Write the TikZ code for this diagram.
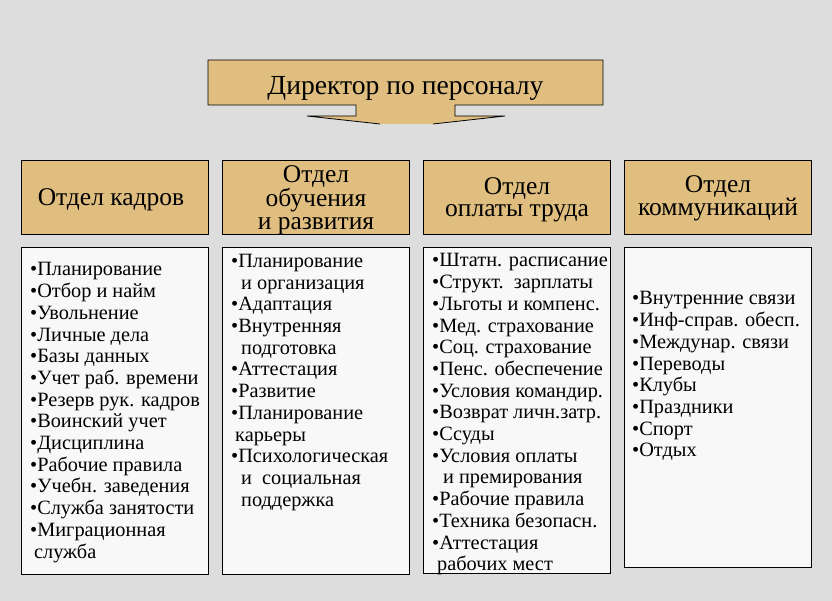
\documentclass[tikz,border=0pt]{standalone}
\usepackage{fontspec}
\setmainfont{Liberation Serif}
\definecolor{bgc}{RGB}{221,221,221}
\definecolor{tanc}{RGB}{224,190,128}
\definecolor{paperc}{RGB}{248,248,248}
\begin{document}
\begin{tikzpicture}[x=1pt,y=-1pt,
  hdr/.style={draw=black, fill=tanc, line width=0.8pt, minimum width=187pt, minimum height=74pt, inner sep=0pt},
  hdrtext/.style={inner sep=0pt, align=center, font=\fontsize{25.5}{22.5}\selectfont},
  listbox/.style={draw=black, fill=paperc, line width=0.8pt, minimum width=187pt, inner sep=0pt},
  listtext/.style={anchor=north west, inner sep=0pt, align=left, font=\fontsize{20.3}{21.7}\selectfont}]
\fill[bgc] (0,0) rectangle (832,601);
\useasboundingbox (0,0) rectangle (832,601);
% director callout
\fill[tanc] (208,60) -- (603,60) -- (603,105) -- (455,105) -- (455,116) -- (505,116) -- (433,124) -- (380,124) -- (307,116) -- (356,116) -- (356,105) -- (208,105) -- cycle;
\draw[line width=0.8pt] (433,124) -- (505,116) -- (455,116) -- (455,105) -- (603,105) -- (603,60) -- (208,60) -- (208,105) -- (356,105) -- (356,116) -- (307,116) -- (380,124);
\node[inner sep=0pt, font=\fontsize{27.6}{27.6}\selectfont] (dir) at (405.5,88) {Директор по персоналу};
% headers
\node[hdr] (h1) at (115,197) {};
\node[hdr] (h2) at (316,197) {};
\node[hdr] (h3) at (517,197) {};
\node[hdr] (h4) at (718,197) {};
\node[hdrtext] (h1t) at (111,200) {Отдел кадров};
\node[hdrtext] (h2t) at (316,200) {Отдел\\обучения\\и развития};
\node[hdrtext] (h3t) at (517,200) {Отдел\\оплаты труда};
\node[hdrtext] (h4t) at (718,198.5) {Отдел\\коммуникаций};
% list boxes
\node[listbox, minimum height=327pt] (b1) at (115,410.5) {};
\node[listbox, minimum height=327pt] (b2) at (316,410.5) {};
\node[listbox, minimum height=326pt] (b3) at (517,410) {};
\node[listbox, minimum height=320pt] (b4) at (718,407) {};
% list texts
\node[listtext] (t1) at (30,262.5) {•Планирование\\•Отбор и найм\\•Увольнение\\•Личные дела\\•Базы данных\\•Учет раб. времени\\•Резерв рук. кадров\\•Воинский учет\\•Дисциплина\\•Рабочие правила\\•Учебн. заведения\\•Служба занятости\\•Миграционная\\\hspace*{4pt}служба};
\node[listtext] (t2) at (231,254) {•Планирование\\\hspace*{10pt}и организация\\•Адаптация\\•Внутренняя\\\hspace*{10pt}подготовка\\•Аттестация\\•Развитие\\•Планирование\\\hspace*{4pt}карьеры\\•Психологическая\\\hspace*{10pt}и\ \ социальная\\\hspace*{10pt}поддержка};
\node[listtext] (t3) at (432,253.5) {•Штатн. расписание\\•Структ.\ \ зарплаты\\•Льготы и компенс.\\•Мед. страхование\\•Соц. страхование\\•Пенс. обеспечение\\•Условия командир.\\•Возврат личн.затр.\\•Ссуды\\•Условия оплаты\\\hspace*{11pt}и премирования\\•Рабочие правила\\•Техника безопасн.\\•Аттестация\\\hspace*{5pt}рабочих мест};
\node[listtext] (t4) at (632,291.5) {•Внутренние связи\\•Инф-справ. обесп.\\•Междунар. связи\\•Переводы\\•Клубы\\•Праздники\\•Спорт\\•Отдых};
\end{tikzpicture}
\end{document}
